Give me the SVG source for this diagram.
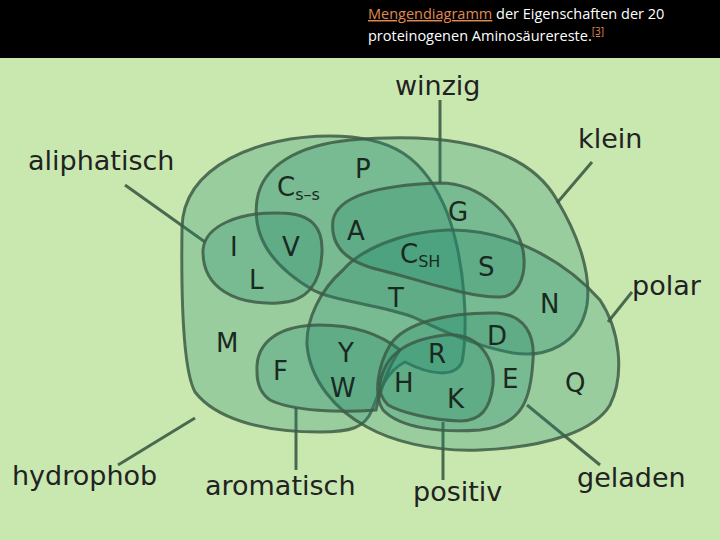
<svg xmlns="http://www.w3.org/2000/svg" width="720" height="540" viewBox="0 0 720 540">
<style>
.s{fill:#1f8a6e;fill-opacity:0.28;stroke:#3d5c45;stroke-width:3;stroke-opacity:0.85}
.l{font-family:"DejaVu Sans",sans-serif;font-size:26px;fill:#1a2a20}
.b{font-family:"DejaVu Sans",sans-serif;font-size:27px;fill:#222}
.sub{font-size:16px}
.p{stroke:#4a6a50;stroke-width:3;fill:none}
.c{font-family:"Open Sans",sans-serif;font-size:14.5px;fill:#fff}
</style>
<rect width="720" height="540" fill="#c9e8b0"/>
<rect width="720" height="58" fill="#000"/>
<text class="c" x="368" y="19"><tspan fill="#e08a50" text-decoration="underline">Mengendiagramm</tspan> der Eigenschaften der 20</text>
<text class="c" x="368" y="41">proteinogenen Aminosäurereste.<tspan fill="#e08a50" font-size="10" dy="-6" text-decoration="underline">[3]</tspan></text>
<g id="connectors">
<line class="p" x1="440" y1="100" x2="440" y2="183"/>
<line class="p" x1="592" y1="162" x2="557" y2="203"/>
<line class="p" x1="125" y1="185" x2="205" y2="242"/>
<line class="p" x1="632" y1="292" x2="608" y2="322"/>
<line class="p" x1="118" y1="465" x2="195" y2="418"/>
<line class="p" x1="296" y1="470" x2="296" y2="408"/>
<line class="p" x1="443" y1="480" x2="443" y2="422"/>
<line class="p" x1="600" y1="465" x2="527" y2="405"/>
</g>
<g id="hydrophob"><path class="s" d="M182,228 C183,165 260,136 330,136 C390,136 425,155 448,215 C466,265 468,330 462,362 C455,378 430,375 405,362 C385,372 378,395 372,410 C365,428 350,432 320,432 C260,432 215,418 195,392 C183,370 181,300 182,228 Z"/><text class="b" x="12" y="485">hydrophob</text></g>
<g id="klein"><path class="s" d="M257,200 C262,165 300,145 350,140 C420,134 520,135 557,200 C575,230 592,270 587,305 C580,345 545,358 513,353 C470,345 430,325 413,317 C380,305 330,300 313,290 C270,265 252,235 257,200 Z"/><text class="b" x="578" y="148">klein</text></g>
<g id="polar"><path class="s" d="M343,270 C360,250 400,232 447,230 C500,228 560,255 600,300 C620,330 625,375 610,405 C595,430 550,447 480,450 C430,452 390,440 367,427 C335,410 310,380 307,345 C306,320 320,290 343,270 Z"/><text class="b" x="632" y="295">polar</text></g>
<g id="winzig"><path class="s" d="M333,220 C338,195 380,185 440,183 C480,183 515,215 523,250 C528,280 515,297 500,297 C470,298 420,280 380,270 C345,262 330,245 333,220 Z"/><text class="b" x="395" y="95">winzig</text></g>
<g id="aliphatisch"><path class="s" d="M203,250 C205,225 240,212 280,213 C312,213 323,228 322,252 C321,282 308,302 278,303 C235,305 202,288 203,250 Z"/><text class="b" x="28" y="170">aliphatisch</text></g>
<g id="aromatisch"><path class="s" d="M257,372 C255,340 282,325 320,325 C360,325 385,338 400,350 C386,370 380,392 376,410 C340,413 292,411 270,400 C260,393 257,382 257,372 Z"/><text class="b" x="205" y="495">aromatisch</text></g>
<g id="geladen"><path class="s" d="M390,345 C405,322 450,312 497,313 C525,315 535,335 533,360 C531,395 525,425 480,430 C440,433 400,428 383,410 C373,395 378,365 390,345 Z"/><text class="b" x="577" y="487">geladen</text></g>
<g id="positiv"><path class="s" d="M380,383 C385,355 405,340 445,335 C480,332 495,360 493,385 C490,410 480,421 460,421 C430,420 400,412 388,405 C381,398 379,390 380,383 Z"/><text class="b" x="413" y="501">positiv</text></g>
<g id="letters">
<text class="l" x="355" y="178">P</text>
<text class="l" x="277" y="196">C<tspan class="sub" dy="4">s–s</tspan></text>
<text class="l" x="347" y="240">A</text>
<text class="l" x="448" y="221">G</text>
<text class="l" x="230" y="256">I</text>
<text class="l" x="282" y="256">V</text>
<text class="l" x="249" y="289">L</text>
<text class="l" x="400" y="263">C<tspan class="sub" dy="4">SH</tspan></text>
<text class="l" x="478" y="276">S</text>
<text class="l" x="388" y="307">T</text>
<text class="l" x="540" y="313">N</text>
<text class="l" x="216" y="352">M</text>
<text class="l" x="338" y="362">Y</text>
<text class="l" x="487" y="345">D</text>
<text class="l" x="428" y="363">R</text>
<text class="l" x="273" y="380">F</text>
<text class="l" x="330" y="397">W</text>
<text class="l" x="502" y="388">E</text>
<text class="l" x="394" y="392">H</text>
<text class="l" x="565" y="392">Q</text>
<text class="l" x="447" y="408">K</text>
</g>
</svg>
